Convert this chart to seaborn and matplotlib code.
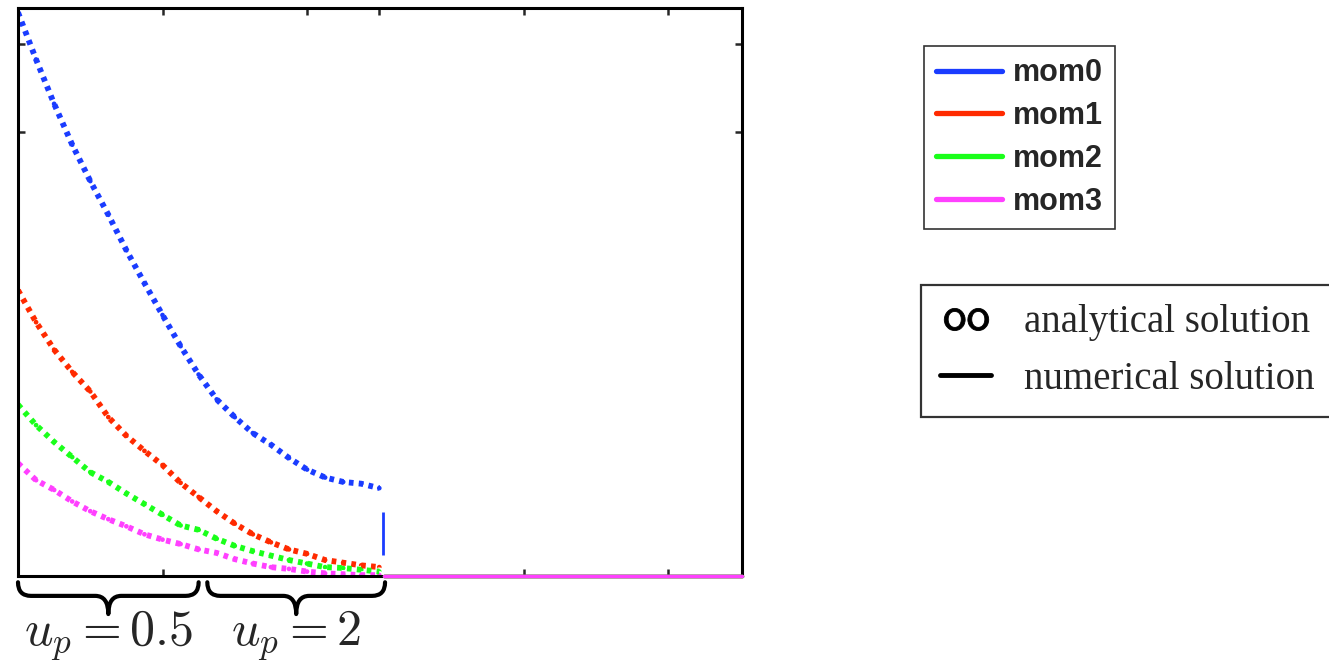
import matplotlib
matplotlib.use("Agg")
import matplotlib.pyplot as plt
from matplotlib.lines import Line2D
from matplotlib.path import Path
from matplotlib.patches import PathPatch
import pandas as pd
import seaborn as sns

# sample positions (same grid for all moments), then flat zero tail
x_vals = [0.0, 0.125, 0.25, 0.375, 0.5, 0.625, 0.75, 0.875, 1.0, 1.125, 1.25,
          1.375, 1.5, 1.625, 1.75, 1.875, 2.0, 2.125, 2.25, 2.375, 2.5]
x_tail = [2.53, 2.8, 3.05, 3.3, 3.55, 3.8, 4.05, 4.3, 4.55, 4.8, 5.01]

mom0 = [6.35, 5.82, 5.32, 4.86, 4.45, 4.07, 3.67, 3.30, 2.94, 2.59, 2.27,
        1.99, 1.79, 1.61, 1.48, 1.33, 1.20, 1.11, 1.06, 1.04, 0.99]
mom1 = [3.22, 2.86, 2.55, 2.30, 2.08, 1.79, 1.58, 1.41, 1.25, 1.05, 0.89,
        0.73, 0.59, 0.47, 0.38, 0.30, 0.25, 0.18, 0.15, 0.12, 0.10]
mom2 = [1.93, 1.70, 1.51, 1.34, 1.17, 1.06, 0.93, 0.81, 0.69, 0.57, 0.52,
        0.42, 0.34, 0.28, 0.23, 0.18, 0.14, 0.10, 0.09, 0.07, 0.05]
mom3 = [1.27, 1.08, 0.97, 0.84, 0.73, 0.64, 0.56, 0.47, 0.41, 0.36, 0.30,
        0.26, 0.19, 0.14, 0.10, 0.08, 0.05, 0.03, 0.02, 0.01, 0.01]

moments = ["mom0", "mom1", "mom2", "mom3"]
colors = ["#1a3cff", "#ff2a00", "#1aff1a", "#ff40ff"]

# regime edges (u_p = 0.5 then u_p = 2) and the step segment of mom0
regimes = [(0.0, 1.25, "$u_p = 0.5$"), (1.31, 2.54, "$u_p = 2$")]
step_x = 2.526
step_y = (0.24, 0.72)

rows = []
for name, vals in zip(moments, [mom0, mom1, mom2, mom3]):
    for xv, yv in zip(x_vals, vals):
        rows.append({"x": xv, "value": yv, "moment": name, "segment": "main"})
    for xv in x_tail:
        rows.append({"x": xv, "value": 0.0, "moment": name, "segment": "tail"})
df = pd.DataFrame(rows)
main = df[df["segment"] == "main"]
tail = df[df["segment"] == "tail"]

sns.set_style("white")
plt.rcParams["mathtext.fontset"] = "cm"

fig = plt.figure(figsize=(13.29, 6.62), dpi=100)
ax = fig.add_axes([18 / 1329, 86 / 662, 724 / 1329, 568 / 662])

palette = dict(zip(moments, colors))
# numerical solution: dotted band
sns.lineplot(data=main, x="x", y="value", hue="moment", palette=palette,
             linestyle=(0, (0.8, 0.9)), linewidth=4.2, legend=False, ax=ax,
             estimator=None)
# analytical solution: small open circles
sns.scatterplot(data=main, x="x", y="value", hue="moment", palette=palette,
                marker="o", s=22, facecolor="none", linewidth=1.3,
                legend=False, ax=ax)
sns.lineplot(data=tail, x="x", y="value", hue="moment", palette=palette,
             linewidth=2.5, legend=False, ax=ax, estimator=None,
             clip_on=False, zorder=4)
ax.vlines(step_x, *step_y, color=colors[0], lw=2)

ax.set_xlim(0, 5.01)
ax.set_ylim(0, 6.4)
ax.set_xlabel("")
ax.set_ylabel("")
ax.set_xticks([1, 2, 2.5, 3.5, 4.5])
ax.set_yticks([5, 6])
ax.tick_params(direction="in", length=5, width=1.8, top=True, right=True,
               bottom=True, left=True, labelbottom=False, labelleft=False)
for s in ax.spines.values():
    s.set_linewidth(2.2)
    s.set_color("black")


def brace(ax, x0, x1, label):
    tr = ax.get_xaxis_transform()
    yt, ym, yb = -0.011, -0.035, -0.067
    r = 0.09
    xc = (x0 + x1) / 2
    verts = [(x0, yt), (x0, ym), (x0 + r, ym), (xc - r, ym), (xc, ym), (xc, yb),
             (xc, ym), (xc + r, ym), (x1 - r, ym), (x1, ym), (x1, yt)]
    codes = [Path.MOVETO, Path.CURVE3, Path.CURVE3, Path.LINETO, Path.CURVE3,
             Path.CURVE3, Path.CURVE3, Path.CURVE3, Path.LINETO, Path.CURVE3,
             Path.CURVE3]
    ax.add_patch(PathPatch(Path(verts, codes), transform=tr, fill=False,
                           lw=3, color="black", clip_on=False,
                           capstyle="round", joinstyle="round"))
    ax.text(xc, -0.1215, label, transform=tr, ha="center", va="baseline",
            fontsize=36, clip_on=False)


for x0, x1, lab in regimes:
    brace(ax, x0, x1, lab)

mom_handles = [Line2D([], [], color=c, lw=3.8) for c in colors]
leg1 = fig.legend(mom_handles, moments, loc="upper left",
                  bbox_to_anchor=(924 / 1329, 1 - 46 / 662),
                  prop={"family": "Liberation Sans", "weight": "bold", "size": 22},
                  frameon=True, fancybox=False, edgecolor="black",
                  handlelength=2.15, handletextpad=0.35, labelspacing=0.42,
                  borderpad=0.4, borderaxespad=0)
leg1.get_frame().set_linewidth(1.2)

sol_handles = [Line2D([], [], ls="none", marker=r"$\mathsf{oo}$", color="black",
                      ms=32, mew=0.6),
               Line2D([], [], color="black", lw=3.5)]
leg2 = fig.legend(sol_handles, ["analytical solution", "numerical solution"],
                  loc="upper left", bbox_to_anchor=(921 / 1329, 1 - 285 / 662),
                  prop={"family": "Liberation Serif", "size": 28},
                  numpoints=1, frameon=True, fancybox=False, edgecolor="black",
                  handlelength=1.3, handletextpad=0.85, labelspacing=0.5,
                  borderpad=0.5, borderaxespad=0)
leg2.get_frame().set_linewidth(1.6)

fig.savefig("out.png", dpi=100)
